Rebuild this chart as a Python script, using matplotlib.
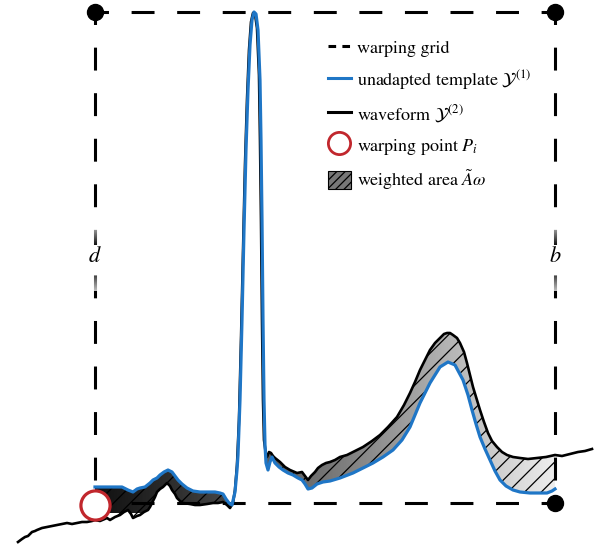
import numpy as np
import matplotlib
matplotlib.use("Agg")
import matplotlib.pyplot as plt
from matplotlib.lines import Line2D
from matplotlib.patches import Patch, Polygon

plt.rcParams["font.family"] = "STIXGeneral"
plt.rcParams["mathtext.fontset"] = "stix"
plt.rcParams["lines.scale_dashes"] = False
plt.rcParams["hatch.linewidth"] = 0.9

# warping grid (samples / amplitude units)
grid_x = [0, 460]
grid_y = [0, 491]

# unadapted template Y(1)
tmpl_x = np.array([
    0, 10, 20, 27, 33, 38, 42, 45, 50, 55,
    58, 62, 65, 69, 73, 77, 80, 83, 87, 92,
    98, 105, 112, 120, 125, 128, 131, 134, 137, 140,
    142, 143, 145, 147, 149, 151, 153, 155, 157, 159,
    161, 163, 165, 166, 167, 168, 169, 170, 171, 173,
    175, 177, 180, 184, 188, 193, 198, 203, 207, 210,
    213, 217, 222, 228, 235, 245, 258, 268, 278, 288,
    298, 307, 315, 325, 335, 345, 353, 360, 368, 373,
    377, 381, 385, 390, 395, 400, 405, 411, 418, 425,
    435, 445, 452, 457, 460])
tmpl_y = np.array([
    16, 16, 16, 16, 13, 11, 14, 15, 16, 20,
    23, 25, 28, 31, 33, 31, 27, 23, 19, 15,
    12, 11, 11, 11, 10, 9, 4, 0, -2, 11,
    33, 48, 103, 183, 273, 353, 413, 458, 483, 491,
    489, 473, 423, 363, 283, 183, 103, 58, 40, 33,
    41, 46, 40, 36, 33, 30, 28, 25, 23, 19,
    14, 15, 19, 21, 22, 25, 30, 35, 40, 46,
    53, 63, 76, 100, 120, 136, 141, 138, 123, 108,
    93, 79, 66, 54, 43, 32, 23, 17, 13, 11,
    10, 10, 10, 12, 14])

# waveform Y(2)
wave_x = np.array([
    -77, -73, -70, -67, -63, -60, -58, -53, -48, -43,
    -38, -33, -28, -23, -18, -13, -8, -3, 0, 5,
    12, 15, 20, 25, 29, 33, 36, 38, 42, 45,
    49, 53, 55, 57, 60, 62, 65, 68, 72, 75,
    77, 80, 82, 85, 88, 95, 100, 105, 112, 118,
    123, 128, 132, 135, 138, 140, 142, 144, 146, 148,
    150, 152, 154, 156, 158, 160, 162, 164, 165, 166,
    167, 168, 169, 171, 172, 174, 176, 178, 180, 185,
    190, 195, 202, 207, 210, 213, 216, 220, 223, 227,
    231, 235, 240, 245, 252, 260, 268, 277, 285, 293,
    302, 309, 315, 320, 325, 330, 335, 340, 345, 349,
    352, 355, 358, 362, 365, 369, 372, 375, 378, 382,
    385, 389, 393, 397, 402, 407, 412, 418, 425, 433,
    442, 451, 460, 467, 475, 483, 490, 497])
wave_y = np.array([
    -39, -36, -34, -33, -29, -28, -27, -25, -24, -23,
    -22, -21, -20, -21, -20, -19, -19, -18, -17, -18,
    -15, -17, -14, -12, -9, -7, -11, -15, -13, -12,
    -9, -7, -4, 0, 6, 11, 14, 16, 20, 17,
    13, 9, 5, 2, 0, -1, -2, -2, -1, 0,
    0, 1, -2, -5, 0, 13, 38, 83, 163, 253,
    338, 403, 453, 481, 490, 489, 475, 428, 363, 283,
    183, 103, 63, 48, 46, 51, 50, 47, 45, 41,
    36, 33, 30, 31, 27, 23, 27, 31, 35, 38,
    40, 41, 43, 46, 48, 52, 56, 62, 68, 76,
    86, 98, 110, 121, 133, 143, 153, 160, 165, 169,
    170, 170, 168, 165, 160, 151, 140, 128, 116, 103,
    93, 81, 70, 62, 56, 51, 48, 46, 45, 44,
    45, 46, 48, 47, 49, 51, 52, 54])

# warping point P_i
point_x = [0]
point_y = [-2]

legend_labels = [
    "warping grid",
    r"unadapted template $\mathcal{Y}^{(1)}$",
    r"waveform $\mathcal{Y}^{(2)}$",
    r"warping point $P_i$",
    r"weighted area $\tilde{A}\omega$",
]

blue = "#1f76c6"
red = "#c1272d"

fig = plt.figure(figsize=(6.05, 5.46), dpi=100)
ax = fig.add_axes([0, 0, 1, 1])

# weighted area between waveform and template
inside = (wave_x >= grid_x[0]) & (wave_x <= grid_x[1])
poly_x = np.concatenate([wave_x[inside], tmpl_x[::-1]])
poly_y = np.concatenate([wave_y[inside], tmpl_y[::-1]])
verts = np.column_stack([poly_x, poly_y])

shade = Polygon(verts, closed=True, facecolor="none", edgecolor="none")
ax.add_patch(shade)
ramp = 0.07 + 0.86 * np.linspace(0, 1, 300) ** 1.15
im = ax.imshow(ramp[None, :], extent=[grid_x[0], grid_x[1], -10, 495],
               cmap="gray", vmin=0, vmax=1, aspect="auto", zorder=1)
im.set_clip_path(shade)
ax.add_patch(Polygon(verts, closed=True, fill=False, hatch="//",
                     edgecolor="black", linewidth=0, zorder=2))

# grid
dash = (16.5, 16.3)
for yy in grid_y:
    ax.plot(grid_x, [yy, yy], color="black", lw=2.2, ls=(6.8, dash), zorder=3)
for xx in grid_x:
    ax.plot([xx, xx], [grid_y[1], grid_y[0]], color="black", lw=2.2,
            ls=(7.5, dash), zorder=3)
ax.plot([grid_x[0], grid_x[1], grid_x[1]], [grid_y[1], grid_y[1], grid_y[0]],
        ls="none", marker="o", ms=11.5, color="black", zorder=6)

# side labels, with the neighbouring dashes fading out
fade = np.zeros((50, 1, 4))
fade[..., :3] = 1.0
fade[:, 0, 3] = np.linspace(0, 0.75, 50)
for xx, lab in zip(grid_x, ["$d$", "$b$"]):
    ax.text(xx, 246, lab, ha="center", va="center", fontsize=16,
            bbox=dict(fc="white", ec="none", pad=1.5), zorder=4)
    ax.imshow(fade, extent=[xx - 4, xx + 4, 278, 256], aspect="auto", zorder=3.5)
    ax.imshow(fade[::-1], extent=[xx - 4, xx + 4, 236, 212], aspect="auto",
              zorder=3.5)

ax.plot(wave_x, wave_y, color="black", lw=1.9, zorder=4)
ax.plot(tmpl_x, tmpl_y, color=blue, lw=2.3, zorder=5)
ax.plot(point_x, point_y, ls="none", marker="o", ms=21, mfc="white",
        mec=red, mew=2.3, zorder=7)

handles = [
    Line2D([], [], color="black", lw=2.2, ls=(0, (5.5, 4.5))),
    Line2D([], [], color=blue, lw=2.2),
    Line2D([], [], color="black", lw=2.2),
    Line2D([], [], ls="none", marker="o", ms=16, mfc="white", mec=red, mew=2),
    Patch(facecolor="#777777", edgecolor="black", hatch="////", lw=0.8),
]
ax.legend(handles, legend_labels, loc="upper left",
          bbox_to_anchor=(328 / 605, 1 - 38 / 546), bbox_transform=fig.transFigure,
          frameon=False, fontsize=13, handlelength=1.25, handleheight=1.2,
          handletextpad=0.35, labelspacing=0.61, borderpad=0, borderaxespad=0)

ax.set_xlim(-95, 510)
ax.set_ylim(-43, 503)
ax.axis("off")

fig.savefig("out.png", dpi=100)
